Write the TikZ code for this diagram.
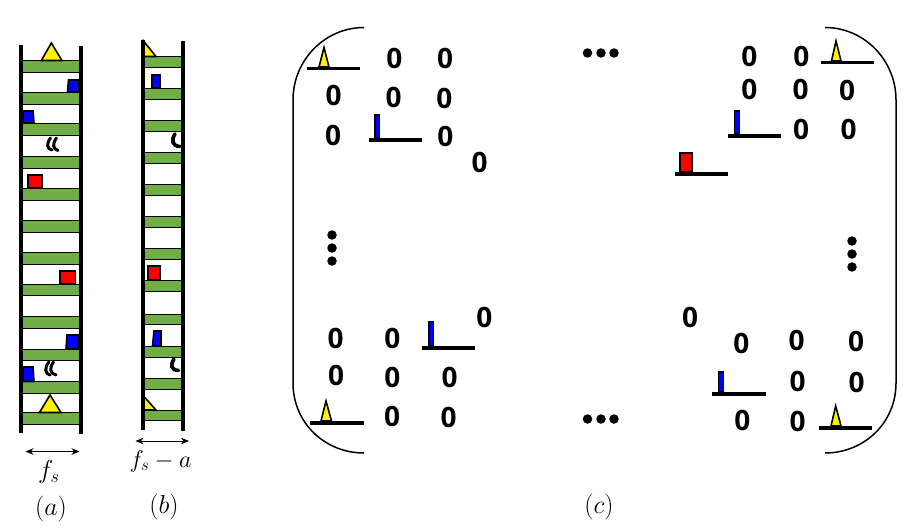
\documentclass[tikz,border=0pt]{standalone}
\usepackage{fontspec}
\newfontfamily\zerofont{Open Sans}
\usetikzlibrary{arrows.meta}
\definecolor{bargreen}{HTML}{70AD47}

\begin{document}
\begin{tikzpicture}[x=1pt,y=-1pt]
  \useasboundingbox (0,0) rectangle (912,532);
  \tikzset{
    bar/.style={rectangle,draw=black,fill=bargreen,line width=1.1pt,inner sep=0pt,minimum height=11.5pt},
    rail/.style={draw=black,line width=3.8pt},
    zero/.style={font=\fontsize{28}{30}\selectfont\zerofont\bfseries,inner sep=0pt},
    label/.style={font=\fontsize{17.28}{20}\selectfont,inner sep=0pt,scale=1.5},
    axisline/.style={draw=black,line width=3.6pt},
    tone/.style={draw=black,line width=1.6pt,line join=miter},
    wiggle/.style={draw=black,line width=3pt,line cap=round},
    span/.style={draw=black,line width=1pt,{Stealth[length=8pt,width=6.5pt]}-{Stealth[length=8pt,width=6.5pt]}},
    bracket/.style={draw=black,line width=1.5pt}
  }

  % ladder a
  \begin{scope}[every node/.style={bar,minimum width=58pt}]
    \node (A1) at (51,66.5) {};
    \node (A2) at (51,98.5) {};
    \node (A3) at (51,129.5) {};
    \node (A4) at (51,162.5) {};
    \node (A5) at (51,194.5) {};
    \node (A6) at (51,226.5) {};
    \node (A7) at (51,258.5) {};
    \node (A8) at (51,290) {};
    \node (A9) at (51,322.5) {};
    \node (A10) at (51,355) {};
    \node (A11) at (51,387.5) {};
    \node (A12) at (51,418.5) {};
  \end{scope}

  % ladder b
  \begin{scope}[every node/.style={bar,minimum width=40pt,minimum height=10.5pt}]
    \node (B1) at (163,62) {};
    \node (B2) at (163,94) {};
    \node (B3) at (163,126) {};
    \node (B4) at (163,158) {};
    \node (B5) at (163,190) {};
    \node (B6) at (163,222) {};
    \node (B7) at (163,254) {};
    \node (B8) at (163,286) {};
    \node (B9) at (163,319.5) {};
    \node (B10) at (163,352) {};
    \node (B11) at (163,384) {};
    \node (B12) at (163,415.5) {};
  \end{scope}

  % signals on a
  \draw[tone,fill=yellow] (51.3,43) -- (62,60.5) -- (41.3,60.5) -- cycle;
  \draw[tone,fill=blue] (68.5,80) -- (79,80) -- (79,92) -- (67.5,92) -- cycle;
  \draw[tone,fill=blue] (23,111) -- (33,111) -- (34,123) -- (23,123) -- cycle;
  \draw[tone,fill=red] (28,175) rectangle (42,188);
  \draw[tone,fill=red] (60,271) rectangle (75.5,284);
  \draw[tone,fill=blue] (67,335) -- (78.5,335) -- (78.5,349) -- (66,349) -- cycle;
  \draw[tone,fill=blue] (23,367) -- (33,367) -- (34,381.5) -- (23,381.5) -- cycle;
  \draw[tone,fill=yellow] (50,395) -- (61,412.5) -- (39.5,412.5) -- cycle;
  \draw[wiggle] (50.5,138) .. controls (46,144) and (47,149) .. (52,150);
  \draw[wiggle] (56.5,138) .. controls (52,144) and (53,149) .. (58,150.5);
  \draw[wiggle] (49,362) .. controls (44,368) and (45,374) .. (50,375);
  \draw[wiggle] (53.5,362) .. controls (49,368) and (50,374) .. (56,375);

  % signals on b
  \draw[tone,fill=yellow] (143.5,41) -- (156,56.5) -- (143.5,56.5) -- cycle;
  \draw[tone,fill=blue] (152,75) -- (160,75) -- (160,88) -- (152,88) -- cycle;
  \draw[tone,fill=red] (148,266) rectangle (160,280);
  \draw[tone,fill=blue] (154,331) -- (161,331) -- (161,346) -- (152.5,346) -- cycle;
  \draw[tone,fill=yellow] (143.5,396) -- (156,410) -- (143.5,410) -- cycle;
  \draw[wiggle,line width=3.6pt] (175,134) .. controls (171,140) and (172,146) .. (180,146.5);
  \draw[wiggle,line width=3.6pt] (174,359) .. controls (170,365) and (171,370) .. (178.5,370.5);

  % rails
  \coordinate (A top left) at (21,45);
  \coordinate (A bottom left) at (21,433);
  \coordinate (A top right) at (81,46);
  \coordinate (A bottom right) at (81,434);
  \coordinate (B top left) at (143,40);
  \coordinate (B bottom left) at (143,430);
  \coordinate (B top right) at (183,41);
  \coordinate (B bottom right) at (183,431);
  \path (A top left) edge[rail] (A bottom left);
  \path (A top right) edge[rail] (A bottom right);
  \path (B top left) edge[rail] (B bottom left);
  \path (B top right) edge[rail] (B bottom right);

  % widths
  \coordinate (A span left) at (25.5,451.5);
  \coordinate (A span right) at (79.5,451.5);
  \coordinate (B span left) at (135.5,441);
  \coordinate (B span right) at (189,441);
  \draw[span] (A span left) -- (A span right);
  \draw[span] (B span left) -- (B span right);
  \node (fa) [label] at (49,472) {$f_s$};
  \node (fb) [label,scale=0.93] at (160.5,461) {$f_s-a$};
  \node (la) [label] at (51,509) {$(a)$};
  \node (lb) [label] at (164,507) {$(b)$};
  \node (lc) [label] at (599,507) {$(c)$};

  % brackets
  \coordinate (L top) at (364,27.5);
  \coordinate (L bottom) at (364,453);
  \coordinate (R top) at (825,27.5);
  \coordinate (R bottom) at (825,453);
  \draw[bracket] (L top) .. controls (325,27.5) and (293,60) .. (293,100) -- (293,383) .. controls (293,423) and (325,453) .. (L bottom);
  \draw[bracket] (R top) .. controls (864,27.5) and (896,60) .. (896,100) -- (896,383) .. controls (896,423) and (864,453) .. (R bottom);

  % diagonal entries
  \draw[tone,fill=yellow] (324,47.5) -- (329,67) -- (319,67) -- cycle;
  \draw[tone,fill=blue] (375,115) rectangle (379.5,138);
  \draw[tone,fill=yellow] (836,41) -- (841,61) -- (831.5,61) -- cycle;
  \draw[tone,fill=blue] (734.5,111) rectangle (739.5,134);
  \draw[tone,fill=red] (680,153) rectangle (692,172);
  \draw[tone,fill=blue] (429,321.5) rectangle (433.5,346);
  \draw[tone,fill=yellow] (326,401) -- (331.5,421) -- (321,421) -- cycle;
  \draw[tone,fill=blue] (718.5,372) rectangle (723.5,392);
  \draw[tone,fill=yellow] (835.7,406) -- (841,426) -- (831,426) -- cycle;
  \coordinate (T1 left) at (307,68.7);
  \coordinate (T1 right) at (360,68.7);
  \coordinate (T2 left) at (369,139.7);
  \coordinate (T2 right) at (422,139.7);
  \coordinate (T3 left) at (821,62.7);
  \coordinate (T3 right) at (874,62.7);
  \coordinate (T4 left) at (728,135.7);
  \coordinate (T4 right) at (781,135.7);
  \coordinate (T5 left) at (675,173.7);
  \coordinate (T5 right) at (728,173.7);
  \coordinate (T6 left) at (422,347.7);
  \coordinate (T6 right) at (475,347.7);
  \coordinate (T7 left) at (310,422.7);
  \coordinate (T7 right) at (364,422.7);
  \coordinate (T8 left) at (712,393.7);
  \coordinate (T8 right) at (766,393.7);
  \coordinate (T9 left) at (819,427.7);
  \coordinate (T9 right) at (872,427.7);
  \path (T1 left) edge[axisline] (T1 right);
  \path (T2 left) edge[axisline] (T2 right);
  \path (T3 left) edge[axisline] (T3 right);
  \path (T4 left) edge[axisline] (T4 right);
  \path (T5 left) edge[axisline] (T5 right);
  \path (T6 left) edge[axisline] (T6 right);
  \path (T7 left) edge[axisline] (T7 right);
  \path (T8 left) edge[axisline] (T8 right);
  \path (T9 left) edge[axisline] (T9 right);

  % zeros
  \begin{scope}[every node/.style={zero}]
    \node (Z1) at (394.3,58) {0};
    \node (Z2) at (445,58) {0};
    \node (Z3) at (333.7,95) {0};
    \node (Z4) at (393.7,97) {0};
    \node (Z5) at (444.3,98) {0};
    \node (Z6) at (333,135) {0};
    \node (Z7) at (445.3,136) {0};
    \node (Z8) at (479.7,162.3) {0};
    \node (Z9) at (749.3,56) {0};
    \node (Z10) at (801.3,56) {0};
    \node (Z11) at (749.3,89) {0};
    \node (Z12) at (800.7,89) {0};
    \node (Z13) at (847,90.3) {0};
    \node (Z14) at (801,129.3) {0};
    \node (Z15) at (848.7,129.3) {0};
    \node (Z16) at (484.3,317.7) {0};
    \node (Z17) at (335.7,338.3) {0};
    \node (Z18) at (392.3,338.3) {0};
    \node (Z19) at (336,375) {0};
    \node (Z20) at (392.3,377.3) {0};
    \node (Z21) at (449.7,377.3) {0};
    \node (Z22) at (392,416) {0};
    \node (Z23) at (448.7,417.3) {0};
    \node (Z24) at (690,317.7) {0};
    \node (Z25) at (741.3,343.3) {0};
    \node (Z26) at (796.7,340.7) {0};
    \node (Z27) at (856,341.7) {0};
    \node (Z28) at (797.7,381) {0};
    \node (Z29) at (856.7,382.3) {0};
    \node (Z30) at (742.3,420.7) {0};
    \node (Z31) at (797.7,421.3) {0};
  \end{scope}

  % dots
  \begin{scope}[every node/.style={circle,fill=black,inner sep=0pt,minimum size=9.5pt}]
    \node (D1) at (587.5,53) {};
    \node (D2) at (601,53) {};
    \node (D3) at (614,53) {};
    \node (D4) at (587.5,419) {};
    \node (D5) at (601,419) {};
    \node (D6) at (614,419) {};
    \node (D7) at (332,235) {};
    \node (D8) at (332,248) {};
    \node (D9) at (332,261) {};
    \node (D10) at (852,241) {};
    \node (D11) at (852,254) {};
    \node (D12) at (852,267) {};
  \end{scope}
\end{tikzpicture}
\end{document}
